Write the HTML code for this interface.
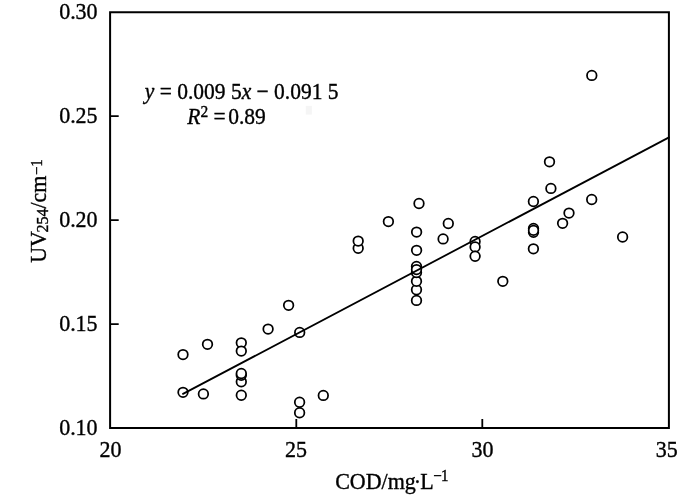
<!DOCTYPE html>
<html><head><meta charset="utf-8"><style>
html,body{margin:0;padding:0;background:#fff;}
body{width:700px;height:497px;overflow:hidden;}
svg{display:block;will-change:transform;}
text{font-family:"Liberation Serif","Times New Roman",serif;fill:#000;stroke:#000;stroke-width:0.35px;}
</style></head><body>
<svg width="700" height="497" viewBox="0 0 700 497">
<rect width="700" height="497" fill="#fff"/>
<rect x="305.8" y="105.9" width="6.1" height="8.7" fill="#f5f5f5"/>
<g fill="#fff" stroke="#000" stroke-width="1.75">
<circle cx="183.0" cy="354.6" r="4.8"/>
<circle cx="207.5" cy="344.3" r="4.8"/>
<circle cx="183.0" cy="392.3" r="4.8"/>
<circle cx="203.4" cy="393.9" r="4.8"/>
<circle cx="241.3" cy="342.8" r="4.8"/>
<circle cx="241.3" cy="351.1" r="4.8"/>
<circle cx="241.3" cy="381.8" r="4.8"/>
<circle cx="241.3" cy="375.2" r="4.8"/>
<circle cx="241.3" cy="373.5" r="4.8"/>
<circle cx="241.3" cy="395.2" r="4.8"/>
<circle cx="268.1" cy="329.1" r="4.8"/>
<circle cx="288.6" cy="305.3" r="4.8"/>
<circle cx="299.7" cy="332.4" r="4.8"/>
<circle cx="299.6" cy="402.2" r="4.8"/>
<circle cx="299.6" cy="412.7" r="4.8"/>
<circle cx="323.3" cy="395.4" r="4.8"/>
<circle cx="358.2" cy="248.2" r="4.8"/>
<circle cx="358.2" cy="241.1" r="4.8"/>
<circle cx="388.4" cy="221.6" r="4.8"/>
<circle cx="419.0" cy="203.5" r="4.8"/>
<circle cx="416.6" cy="232.1" r="4.8"/>
<circle cx="416.6" cy="250.3" r="4.8"/>
<circle cx="416.5" cy="300.4" r="4.8"/>
<circle cx="416.5" cy="289.7" r="4.8"/>
<circle cx="416.5" cy="281.3" r="4.8"/>
<circle cx="416.5" cy="272.5" r="4.8"/>
<circle cx="416.5" cy="266.4" r="4.8"/>
<circle cx="416.5" cy="269.6" r="4.8"/>
<circle cx="443.1" cy="238.9" r="4.8"/>
<circle cx="448.3" cy="223.5" r="4.8"/>
<circle cx="475.1" cy="241.4" r="4.8"/>
<circle cx="475.1" cy="246.9" r="4.8"/>
<circle cx="475.1" cy="256.3" r="4.8"/>
<circle cx="502.8" cy="281.3" r="4.8"/>
<circle cx="533.4" cy="201.5" r="4.8"/>
<circle cx="533.5" cy="228.4" r="4.8"/>
<circle cx="533.5" cy="232.3" r="4.8"/>
<circle cx="533.5" cy="230.35" r="4.8"/>
<circle cx="533.4" cy="248.8" r="4.8"/>
<circle cx="549.5" cy="161.8" r="4.8"/>
<circle cx="550.9" cy="188.4" r="4.8"/>
<circle cx="562.6" cy="223.3" r="4.8"/>
<circle cx="569.0" cy="213.1" r="4.8"/>
<circle cx="591.7" cy="199.5" r="4.8"/>
<circle cx="591.8" cy="75.4" r="4.8"/>
<circle cx="622.6" cy="237.0" r="4.8"/>
</g>
<path d="M183.0 393.9L669 137.4" stroke="#000" stroke-width="1.8" stroke-linecap="round" fill="none"/>
<rect x="110.1" y="12.25" width="558.8" height="415.75" fill="none" stroke="#000" stroke-width="2"/>
<path d="M110.1 116.2H118.69999999999999 M110.1 220.1H118.69999999999999 M110.1 324.1H118.69999999999999 M296.3 428.0V419.1 M482.3 428.0V419.1" stroke="#000" stroke-width="1.8" fill="none"/>
<g font-size="22">
<text transform="translate(97.6 18.95) scale(1 1.08)" text-anchor="end">0.30</text>
<text transform="translate(97.6 122.90) scale(1 1.08)" text-anchor="end">0.25</text>
<text transform="translate(97.6 226.80) scale(1 1.08)" text-anchor="end">0.20</text>
<text transform="translate(97.6 330.80) scale(1 1.08)" text-anchor="end">0.15</text>
<text transform="translate(97.6 434.70) scale(1 1.08)" text-anchor="end">0.10</text>
<text transform="translate(110.40 457.2) scale(1 1.08)" text-anchor="middle">20</text>
<text transform="translate(295.90 457.2) scale(1 1.08)" text-anchor="middle">25</text>
<text transform="translate(482.60 457.2) scale(1 1.08)" text-anchor="middle">30</text>
<text transform="translate(666.80 457.2) scale(1 1.08)" text-anchor="middle">35</text>
<text transform="translate(0 489.0) scale(1 1.08)" y="0"><tspan x="335.2">COD/mg</tspan><tspan x="413.7">·</tspan><tspan x="420.2">L</tspan><tspan font-size="15" x="433.2" y="-7.85">−</tspan><tspan font-size="15" x="441.1" y="-7.1">1</tspan></text>
<text transform="translate(45.5 262.8) rotate(-90) scale(1 1.08)"><tspan x="0" y="0">UV</tspan><tspan font-size="16" x="30.2" y="2.04">254</tspan><tspan x="54.2" y="0">/cm</tspan><tspan font-size="15" x="87.9" y="-3.5">−</tspan><tspan font-size="15" x="96.0" y="-2.87">1</tspan></text>
</g>
<g font-size="21.5">
<text transform="translate(0 98.6) scale(1 1.08)" y="0"><tspan x="144.8" font-style="italic">y</tspan> = 0.009 5<tspan font-style="italic">x</tspan> − 0.091 5</text>
<text transform="translate(0 124.4) scale(1 1.08)" y="0"><tspan x="187.3" font-style="italic">R</tspan><tspan dy="-7.31" font-size="15.5">2</tspan><tspan dy="7.31"> =</tspan><tspan x="228.2">0.89</tspan></text>
</g>
</svg>
</body></html>
